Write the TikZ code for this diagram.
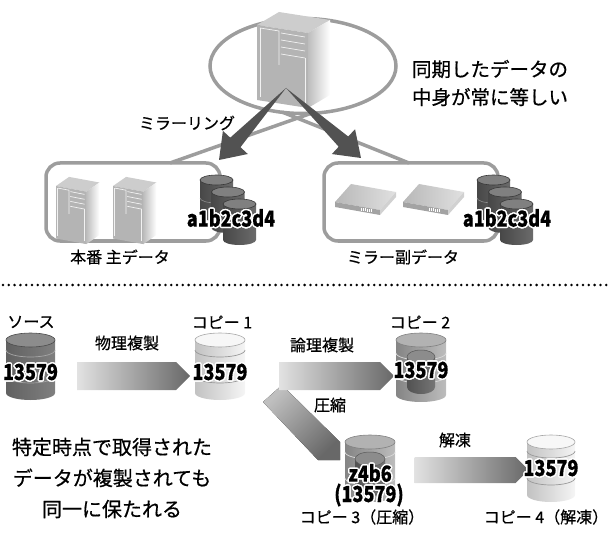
\documentclass[tikz,border=0pt]{standalone}
\usepackage{fontspec}
\setmainfont{Noto Sans CJK JP}[FakeBold=0.6]
\usepackage{xcolor}
\usepackage{tikz}
\usetikzlibrary{positioning,calc,shapes.arrows,shapes.geometric}

\definecolor{ringgray}{HTML}{9D9D9D}
\definecolor{forkgray}{HTML}{525252}
\definecolor{flowlight}{HTML}{E2E2E2}
\definecolor{flowdark}{HTML}{686868}
\definecolor{towerfront}{HTML}{B4B4B4}
\definecolor{towertop}{HTML}{CDCDCD}
\definecolor{towerside}{HTML}{BDBDBD}

\def\drumry{7}
\newcommand\drum[5]{%
  \pgfmathsetmacro\drL{#1-#3/2}%
  \pgfmathsetmacro\drR{#1+#3/2}%
  \pgfmathsetmacro\drB{#2+#4}%
  \pgfmathsetmacro\drW{#3/2}%
  \path[#5 body] (\drL,#2) -- (\drL,\drB) arc[start angle=180, end angle=360, x radius=\drW pt, y radius=\drumry pt] -- (\drR,#2) -- cycle;
  \path[#5 top] (#1,#2) ellipse[x radius=\drW pt, y radius=\drumry pt];
}
\newcommand\drumband[4]{%
  \pgfmathsetmacro\drL{#1-#3/2}%
  \pgfmathsetmacro\drW{#3/2}%
  \draw[#4] (\drL,#2) arc[start angle=180, end angle=360, x radius=\drW pt, y radius=\drumry pt];
}
\newcommand\wedgearrow[2]{%
  \coordinate (wedgebase) at ($(#2)!24pt!(#1)$);
  \fill[forkgray] (#1) -- ($(wedgebase)!7pt!90:(#2)$) -- ($(wedgebase)!17pt!90:(#2)$) -- (#2)
    -- ($(wedgebase)!17pt!-90:(#2)$) -- ($(wedgebase)!7pt!-90:(#2)$) -- cycle;
}
\newcommand\halo[3]{%
  \foreach \ang in {0,30,...,330}
    \node[num, text=white] at ($(#2)+(\ang:1.5pt)$) {\scalebox{0.82}[1]{#3}};
  \node[num] (#1) at (#2) {\scalebox{0.82}[1]{#3}};
}

\tikzset{
  jp/.style={font=\fontsize{16}{18}\selectfont, inner sep=0pt},
  bigjp/.style={font=\fontsize{19.5}{28}\selectfont, inner sep=0pt, align=center},
  num/.style={font=\fontsize{22}{24}\selectfont\bfseries, inner sep=0pt},
  frame/.style={draw=ringgray, line width=3.5pt, rounded corners=14pt, inner sep=0pt},
  tent/.style={draw=ringgray, line width=3.5pt},
  flow/.style={single arrow, single arrow head extend=0pt, single arrow tip angle=90,
    minimum width=28pt, inner sep=0pt, left color=flowlight, right color=flowdark},
  dotline/.style={line width=2.8pt, line cap=round, dash pattern=on 0pt off 5.8pt},
  trim/.style={draw=white!90!gray, line width=0.7pt},
  dark body/.style={left color=black!62, right color=black!50},
  dark top/.style={fill=black!45, draw=black!70, line width=0.6pt},
  light body/.style={left color=black!24, right color=black!4},
  light top/.style={fill=black!3, draw=black!35, line width=0.6pt},
  mid body/.style={left color=black!48, right color=black!26},
  mid top/.style={fill=black!30, draw=black!50, line width=0.6pt},
  inner body/.style={left color=black!68, right color=black!54},
  inner top/.style={fill=black!45, draw=black!65, line width=0.5pt},
  db body/.style={left color=black!72, right color=black!58},
  db top/.style={fill=black!50, draw=black!78, line width=0.6pt},
  pics/tower/.style={code={
    \fill[towertop] (0,0) -- (22,-13) -- (73,-5) -- (51,8) -- cycle;
    \fill[towerfront] (0,0) -- (51,8) -- (51,83) -- (0,75) -- cycle;
    \shade[left color=towerside, right color=white] (51,8) -- (73,-5) -- (73,70) -- (51,83) -- cycle;
    \draw[trim] (3,3) -- (3,72);
    \draw[trim] (3,3) -- (22,6) -- (22,40);
    \foreach \y in {8,15,22,29} {\draw[trim] (24,\y) -- (48,\y+4);}
    \draw[trim] (48,33) -- (48,79);
  }},
  pics/rack/.style={code={
    \shade[left color=black!28, right color=black!12] (0,0) -- (16,-18) -- (61,-10) -- (45,8) -- cycle;
    \fill[black!36] (0,0) -- (45,8) -- (45,13) -- (0,5) -- cycle;
    \fill[black!18] (45,8) -- (61,-10) -- (61,-5) -- (45,13) -- cycle;
    \foreach \x in {26,28,...,36} {\draw[white, line width=0.4pt] (\x,{\x*8/45+1}) -- ++(0,3);}
  }},
  pics/dbstack/.style={code={
    \def\drumry{5}
    \foreach \i in {0,1,2} {
      \drum{16.5+11.5*\i}{5+12*\i}{33}{36}{db}
      \drumband{16.5+11.5*\i}{23+12*\i}{33}{black!45, line width=0.6pt}
    }
  }}
}

\begin{document}
\begin{tikzpicture}[x=1pt, y=-1pt]
\useasboundingbox (0,0) rectangle (609,534);

\node[draw=ringgray, line width=3.5pt, ellipse, minimum width=186pt, minimum height=95pt, inner sep=0pt] (syncring) at (303,66) {};
\coordinate (tentL) at (170,163);
\coordinate (tentR) at (409,163);
\coordinate (crossL) at (312,113);
\coordinate (crossR) at (282,112);
\draw[tent] (tentL) -- (crossL);
\draw[tent] (tentR) -- (crossR);

\node[frame, minimum width=174pt, minimum height=78pt] (mainbox) at (133,202) {};
\node[frame, minimum width=174pt, minimum height=78pt] (mirrorbox) at (411,202) {};

\pic at (257,25) {tower};
\pic[scale=0.7, xscale=0.85] at (56,186) {tower};
\pic[scale=0.7, xscale=0.85] at (113,186) {tower};
\pic at (335,202) {rack};
\pic at (403,202) {rack};

\coordinate (fork) at (286,88);
\coordinate (tipL) at (219,160);
\coordinate (tipR) at (361,158);
\wedgearrow{fork}{tipL}
\wedgearrow{fork}{tipR}

\pic at (200,175) {dbstack};
\pic at (477,175) {dbstack};
\halo{keyL}{231,218}{a1b2c3d4}
\halo{keyR}{507,218}{a1b2c3d4}

\node[jp] (mirroring) at (187,123) {ミラーリング};
\node[bigjp] (samecontent) at (490,83) {同期したデータの\\中身が常に等しい};
\node[jp] (mainlbl) at (120,257) {本番 主データ};
\node[jp] (mirrorlbl) at (403,257) {ミラー副データ};

\draw[dotline] (3,285) -- (609,285);

\fill[top color=black!25, bottom color=flowdark, shading angle=45]
  (263,402) -- (282,385) -- (340,442) -- (340,460) -- (318,460) -- cycle;
\node[flow, minimum height=113pt] (physarr) at (126.5,376) {};
\node[flow, minimum height=115pt] (logarr) at (329.5,376) {};
\node[flow, minimum height=114pt, minimum width=26pt] (thawarr) at (465,470) {};

\drum{30.5}{340}{49}{53}{dark}
\foreach \y in {350,376} {\drumband{30.5}{\y}{49}{black!35, line width=0.7pt}}
\drum{220}{340}{50}{53}{light}
\foreach \y in {350,376} {\drumband{220}{\y}{50}{black!40, line width=0.7pt}}
\drum{421}{340}{50}{55}{mid}
\foreach \y in {353,376} {\drumband{421}{\y}{50}{black!15, line width=0.7pt}}
\drum{421}{357}{28}{30}{inner}
\drum{370}{442}{50}{53}{mid}
\foreach \y in {452,478} {\drumband{370}{\y}{50}{black!15, line width=0.7pt}}
\drum{370}{459}{30}{30}{inner}
\drum{551}{442}{48}{53}{light}
\foreach \y in {451,478} {\drumband{551}{\y}{48}{black!40, line width=0.7pt}}

\halo{srcval}{30.5,372}{13579}
\halo{firstval}{220,372}{13579}
\halo{secondval}{421,370}{13579}
\halo{packval}{370,473}{z4b6}
\halo{packraw}{369,495}{(13579)}
\halo{fourthval}{551,468}{13579}

\node[jp] (srclbl) at (31,322) {ソース};
\node[jp] (firstlbl) at (222,322) {コピー 1};
\node[jp] (secondlbl) at (420,322) {コピー 2};
\node[jp] (physlbl) at (127,343) {物理複製};
\node[jp] (loglbl) at (322,345) {論理複製};
\node[jp] (packlbl) at (330,405) {圧縮};
\node[jp] (thawlbl) at (455,440) {解凍};
\node[jp] (thirdlbl) at (362,517) {コピー 3（圧縮）};
\node[jp] (fourthlbl) at (546,517) {コピー 4（解凍）};
\node[bigjp, font=\fontsize{20}{31}\selectfont] (pointnote) at (112,478) {特定時点で取得された\\データが複製されても\\同一に保たれる};
\end{tikzpicture}
\end{document}
